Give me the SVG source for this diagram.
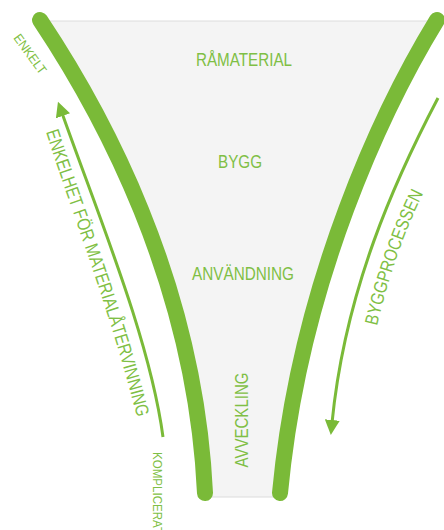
<svg xmlns="http://www.w3.org/2000/svg" width="444" height="530" viewBox="0 0 444 530">
<style>
.band{fill:none;stroke:#7aba38;stroke-width:16;stroke-linecap:round}
.arr{fill:none;stroke:#7aba38;stroke-width:3}
.t{font-family:"Liberation Sans",Arial,sans-serif;fill:#7fbf45;font-size:18.5px}
.s{font-size:13px}
</style>
<defs>
<marker id="ah" viewBox="0 0 10 10" refX="2" refY="5" markerWidth="5" markerHeight="5" orient="auto" markerUnits="strokeWidth">
<path d="M0,0 L10,5 L0,10 Z" fill="#7aba38"/>
</marker>
<path id="pL" d="M46,132 C71,211 111,311 141,433"/>
<path id="pR" d="M377,326 C389,276 403,233 427,186"/>
</defs>
<g id="funnel">
<path d="M40,21 L437,21 C385,105 300,280 280,497 L205,497 C195,280 100,110 40,21 Z" fill="#f4f4f4"/>
<line x1="45" y1="21" x2="437" y2="21" stroke="#dcdcdc" stroke-width="1"/>
<line x1="205" y1="497" x2="280" y2="497" stroke="#dcdcdc" stroke-width="1"/>
</g>
<g id="connectors">
<path class="band" d="M40,20 C100,110 195,280 205,493"/>
<path class="band" d="M437,20 C385,105 300,280 280,493"/>
<path class="arr" d="M163,437 C150,340 100,220 62,113" marker-end="url(#ah)"/>
<path class="arr" d="M438,98 C395,180 345,290 332,423" marker-end="url(#ah)"/>
</g>
<g id="ramaterial"><text class="t" x="244" y="66" text-anchor="middle" textLength="96" lengthAdjust="spacingAndGlyphs">RÅMATERIAL</text></g>
<g id="bygg"><text class="t" x="240" y="168" text-anchor="middle" textLength="44" lengthAdjust="spacingAndGlyphs">BYGG</text></g>
<g id="anvandning"><text class="t" x="243" y="280" text-anchor="middle" textLength="102" lengthAdjust="spacingAndGlyphs">ANVÄNDNING</text></g>
<g id="avveckling"><text class="t" transform="translate(248,420) rotate(-90)" x="0" y="0" text-anchor="middle" textLength="95" lengthAdjust="spacingAndGlyphs">AVVECKLING</text></g>
<g id="enkelt"><text class="t s" transform="translate(13,38) rotate(54)" x="0" y="0" textLength="46" lengthAdjust="spacingAndGlyphs">ENKELT</text></g>
<g id="komplicerat"><text class="t s" transform="translate(153,452) rotate(90)" x="0" y="0" textLength="82" lengthAdjust="spacingAndGlyphs">KOMPLICERAT</text></g>
<g id="enkelhet"><text class="t"><textPath href="#pL" textLength="300" lengthAdjust="spacingAndGlyphs">ENKELHET FÖR MATERIALÅTERVINNING</textPath></text></g>
<g id="byggprocessen"><text class="t"><textPath href="#pR" textLength="141" lengthAdjust="spacingAndGlyphs">BYGGPROCESSEN</textPath></text></g>
</svg>
